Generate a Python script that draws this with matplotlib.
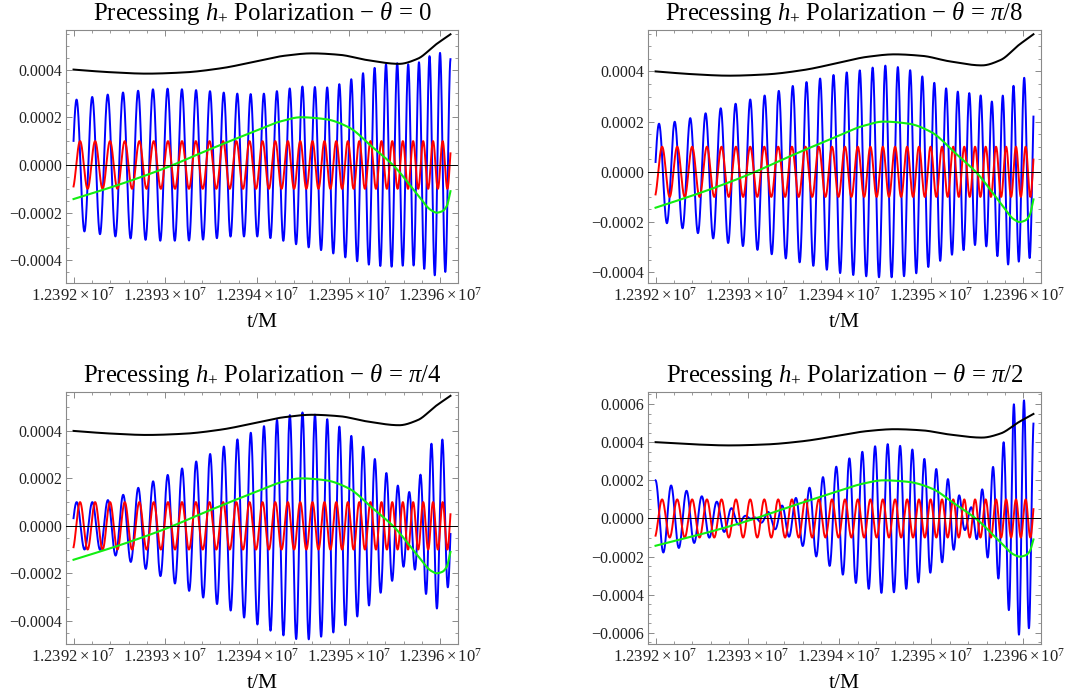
import numpy as np
import matplotlib
matplotlib.use("Agg")
import matplotlib.pyplot as plt
from matplotlib.ticker import FixedLocator, AutoMinorLocator

plt.rcParams["font.family"] = ["Liberation Serif", "DejaVu Serif"]
plt.rcParams["mathtext.fontset"] = "custom"
plt.rcParams["mathtext.rm"] = "Liberation Serif"
plt.rcParams["mathtext.it"] = "Liberation Serif:italic"
plt.rcParams["mathtext.bf"] = "Liberation Serif:bold"
plt.rcParams["mathtext.fallback"] = "stix"

# ---------------------------------------------------------------- data
T0 = 12392000.0           # start of the time window (t/M)
T_SPAN = 4110.0           # length of the window (t/M)

# orbital (red, non-precessing) waveform: amplitude and frequency track
RED_AMP = 1.0e-4
RED_PHASE0 = 3.59
RED_FREQ_T = [0, 500, 1000, 1500, 2000, 2500, 3000, 3500, 4000, 4110]
RED_FREQ = [6.02, 6.23, 6.47, 6.75, 7.08, 7.47, 7.97, 8.60, 9.60, 9.85]   # cycles per 1000 M

# black curve
BLACK_T = [0, 400, 800, 1200, 1600, 2000, 2300, 2600, 2900, 3200, 3550, 3750, 3950, 4110]
BLACK_V = [4.00e-4, 3.89e-4, 3.83e-4, 3.88e-4, 4.05e-4, 4.35e-4, 4.58e-4, 4.68e-4,
           4.62e-4, 4.40e-4, 4.24e-4, 4.45e-4, 5.05e-4, 5.48e-4]

# green curve
GREEN_T = [0, 500, 1000, 1500, 2000, 2250, 2480, 2750, 3000, 3250, 3500, 3750, 3900,
           3960, 4020, 4070, 4110]
GREEN_V = [-1.43e-4, -0.82e-4, -0.13e-4, 0.68e-4, 1.45e-4, 1.82e-4, 2.00e-4, 1.92e-4,
           1.58e-4, 0.78e-4, -0.07e-4, -1.24e-4, -1.90e-4, -2.00e-4, -1.94e-4, -1.72e-4,
           -1.10e-4]

# precessing h+ (blue): value at carrier crest and carrier trough, per inclination
ENV_T = [0, 250, 500, 750, 1000, 1250, 1500, 1750, 2000, 2250, 2500, 2750, 3000,
         3250, 3400, 3500, 3650, 3800, 3900, 4000, 4110]

CREST_0 = [2.72, 2.88, 3.02, 3.13, 3.20, 3.16, 3.09, 3.00, 2.97, 3.12, 3.29, 3.25, 3.55,
           4.02, 4.22, 4.27, 4.22, 4.35, 4.60, 4.70, 4.45]
TROUGH_0 = [-2.70, -2.88, -3.02, -3.13, -3.18, -3.17, -3.10, -3.00, -3.00, -3.15, -3.40,
            -3.62, -3.92, -4.20, -4.25, -4.27, -4.20, -4.30, -4.60, -4.65, -4.20]

CREST_PI8 = [1.90, 2.02, 2.28, 2.58, 2.85, 3.11, 3.43, 3.68, 3.91, 4.06, 4.23, 4.07, 3.60,
             3.22, 3.14, 3.10, 2.80, 3.10, 3.45, 3.75, 3.50]
TROUGH_PI8 = [-1.90, -2.20, -2.49, -2.80, -3.00, -3.27, -3.54, -3.78, -4.03, -4.15, -4.21,
              -4.14, -3.73, -3.26, -3.05, -2.90, -3.05, -3.70, -3.65, -3.50, -3.40]

CREST_PI4 = [1.00, 1.00, 1.25, 1.68, 2.10, 2.54, 3.05, 3.57, 4.05, 4.51, 4.78, 4.52, 3.88,
             2.97, 2.28, 1.83, 1.42, 2.30, 3.45, 3.75, 2.20]
TROUGH_PI4 = [-1.00, -1.00, -1.32, -1.75, -2.22, -2.72, -3.18, -3.64, -4.15, -4.57, -4.80,
              -4.62, -4.10, -3.25, -2.60, -2.22, -1.60, -2.40, -3.40, -3.50, -2.20]

CREST_PI2 = [2.00, 1.60, 1.17, 0.72, 0.10, -0.45, -1.10, -2.00, -2.83, -3.55, -3.92, -3.65,
             -2.80, -1.60, -0.50, -1.15, -2.40, -4.00, -5.80, -6.20, -5.20]
TROUGH_PI2 = [-1.90, -1.55, -1.15, -0.70, -0.10, 0.40, 1.00, 1.90, 2.83, 3.50, 3.90, 3.70,
              2.80, 1.70, 0.50, 1.10, 2.50, 4.20, 6.00, 6.20, 5.20]

# phase of the blue carrier relative to the red one (radians)
PHASE_T = [0, 1000, 2000, 2500, 3000, 3400, 3700, 3950, 4110]
DRIFT_0 = [0, -1.3, -2.1, -2.6, -3.3, -4.1, -4.9, -5.8, -6.8]
DRIFT_PI8 = [0, -1.3, -2.1, -2.6, -3.3, -4.2, -5.2, -6.3, -7.45]
DRIFT_PI4 = [0, -1.3, -2.1, -2.6, -3.3, -4.3, -5.5, -7.0, -8.4]
DRIFT_PI2 = [0, -1.0, -1.6, -2.0, -2.6, -3.3, -4.0, -4.6, -5.07]
PHASE_OFFSET = [1.50, 1.33, 1.45, -3.59]

TITLES = [r"Precessing $h_{+}$ Polarization − $\theta$ = 0",
          r"Precessing $h_{+}$ Polarization − $\theta$ = $\pi$/8",
          r"Precessing $h_{+}$ Polarization − $\theta$ = $\pi$/4",
          r"Precessing $h_{+}$ Polarization − $\theta$ = $\pi$/2"]
YLIMS = [(-4.95e-4, 5.66e-4), (-4.43e-4, 5.65e-4), (-4.98e-4, 5.64e-4), (-6.58e-4, 6.63e-4)]
YTICKS = [[-4e-4, -2e-4, 0, 2e-4, 4e-4]] * 3 + [[-6e-4, -4e-4, -2e-4, 0, 2e-4, 4e-4, 6e-4]]
XTICKS = [12392000, 12393000, 12394000, 12395000, 12396000]
XTICK_LABELS = [r"$1.2392\times10^{7}$", r"$1.2393\times10^{7}$", r"$1.2394\times10^{7}$",
                r"$1.2395\times10^{7}$", r"$1.2396\times10^{7}$"]


def pchip(xk, yk, x):
    """Shape-preserving piecewise cubic through the nodes."""
    xk = np.asarray(xk, float)
    yk = np.asarray(yk, float)
    h = np.diff(xk)
    d = np.diff(yk) / h
    m = np.zeros_like(yk)
    for i in range(1, len(xk) - 1):
        if d[i - 1] * d[i] > 0:
            w1 = 2 * h[i] + h[i - 1]
            w2 = h[i] + 2 * h[i - 1]
            m[i] = (w1 + w2) / (w1 / d[i - 1] + w2 / d[i])
    m[0], m[-1] = d[0], d[-1]
    idx = np.clip(np.searchsorted(xk, x) - 1, 0, len(h) - 1)
    s = (x - xk[idx]) / h[idx]
    h00 = 2 * s**3 - 3 * s**2 + 1
    h10 = s**3 - 2 * s**2 + s
    h01 = -2 * s**3 + 3 * s**2
    h11 = s**3 - s**2
    return (h00 * yk[idx] + h10 * h[idx] * m[idx]
            + h01 * yk[idx + 1] + h11 * h[idx] * m[idx + 1])


t = np.linspace(0.0, T_SPAN, 9000)
x = T0 + t

freq = np.interp(t, RED_FREQ_T, RED_FREQ) / 1000.0
phase_red = RED_PHASE0 + 2 * np.pi * np.concatenate(
    [[0.0], np.cumsum(0.5 * (freq[1:] + freq[:-1]) * np.diff(t))])
red = RED_AMP * np.cos(phase_red)
black = pchip(BLACK_T, BLACK_V, t)
green = pchip(GREEN_T, GREEN_V, t)

crests = [CREST_0, CREST_PI8, CREST_PI4, CREST_PI2]
troughs = [TROUGH_0, TROUGH_PI8, TROUGH_PI4, TROUGH_PI2]
drifts = [DRIFT_0, DRIFT_PI8, DRIFT_PI4, DRIFT_PI2]

fig = plt.figure(figsize=(10.9, 6.98), dpi=100)
boxes = [(66, 30, 458, 283), (648, 30, 1041, 283),
         (66, 392, 458, 644), (648, 392, 1041, 644)]
W, H = 1090.0, 698.0
frame_col = "#8a8a8a"

for k in range(4):
    l, tp, r, b = boxes[k]
    ax = fig.add_axes([l / W, 1 - b / H, (r - l) / W, (b - tp) / H])
    up = pchip(ENV_T, crests[k], t) * 1e-4
    lo = pchip(ENV_T, troughs[k], t) * 1e-4
    drift = pchip(PHASE_T, drifts[k], t)
    blue = 0.5 * (up + lo) + 0.5 * (up - lo) * np.cos(phase_red + PHASE_OFFSET[k] + drift)

    ax.plot(x, blue, color="#0000ff", lw=1.4, zorder=2)
    ax.plot(x, red, color="#ff0000", lw=1.4, zorder=3)
    ax.plot(x, black, color="#000000", lw=1.45, zorder=4)
    ax.plot(x, green, color="#11ee11", lw=1.5, zorder=4)
    ax.axhline(0, color="black", lw=0.7, zorder=5)

    pad = 0.02 * T_SPAN
    ax.set_xlim(T0 - pad, T0 + T_SPAN + pad)
    ax.set_ylim(*YLIMS[k])

    ax.xaxis.set_major_locator(FixedLocator(XTICKS))
    ax.set_xticklabels(XTICK_LABELS)
    ax.xaxis.set_minor_locator(AutoMinorLocator(5))
    yt = YTICKS[k]
    ax.yaxis.set_major_locator(FixedLocator(yt))
    ax.set_yticklabels([f"{v:.4f}".replace("-", "\u2212") if v != 0 else "0.0000" for v in yt])
    ax.yaxis.set_minor_locator(AutoMinorLocator(4))

    ax.tick_params(which="both", direction="in", top=True, right=True,
                   color=frame_col, labelsize=11.5, labelcolor="#222222", pad=3)
    ax.tick_params(axis="x", which="major", labelsize=12)
    ax.tick_params(which="major", length=4.5, width=0.7)
    ax.tick_params(which="minor", length=2.5, width=0.6)
    for sp in ax.spines.values():
        sp.set_color(frame_col)
        sp.set_linewidth(0.8)

    ax.set_title(TITLES[k], fontsize=17.8, pad=7.5)
    ax.set_xlabel("t/M", fontsize=15.5, labelpad=6)

fig.savefig("out.png", dpi=100)
